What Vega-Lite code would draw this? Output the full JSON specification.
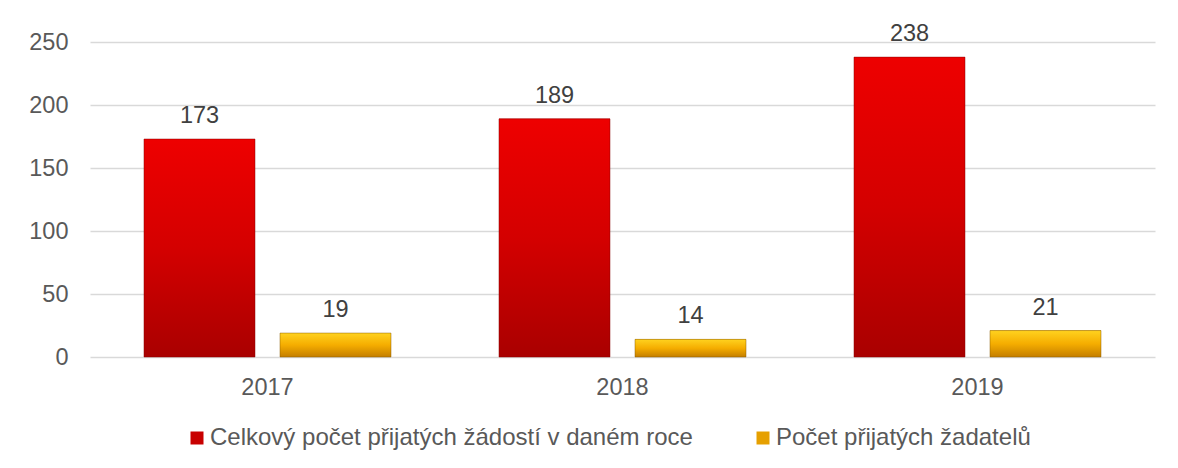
{
  "$schema": "https://vega.github.io/schema/vega-lite/v6.json",
  "width": 1065,
  "height": 315,
  "autosize": "none",
  "padding": {"left": 90, "top": 42, "right": 23, "bottom": 111},
  "background": "white",
  "config": {
    "font": "Liberation Sans",
    "view": {"stroke": null}
  },
  "data": {
    "values": [
      {"rok": "2017", "serie": "Celkový počet přijatých žádostí v daném roce", "hodnota": 173},
      {"rok": "2017", "serie": "Počet přijatých žadatelů", "hodnota": 19},
      {"rok": "2018", "serie": "Celkový počet přijatých žádostí v daném roce", "hodnota": 189},
      {"rok": "2018", "serie": "Počet přijatých žadatelů", "hodnota": 14},
      {"rok": "2019", "serie": "Celkový počet přijatých žádostí v daném roce", "hodnota": 238},
      {"rok": "2019", "serie": "Počet přijatých žadatelů", "hodnota": 21}
    ]
  },
  "encoding": {
    "x": {
      "field": "rok", "type": "nominal",
      "scale": {"paddingInner": 0, "paddingOuter": 0},
      "axis": {"title": null, "labelAngle": 0, "labelFontSize": 23.5, "labelColor": "#595959", "domain": false, "ticks": false, "labelPadding": 18, "grid": false}
    },
    "xOffset": {
      "field": "serie", "type": "nominal",
      "scale": {"domain": ["Celkový počet přijatých žádostí v daném roce", "Počet přijatých žadatelů"], "paddingInner": 0.184, "paddingOuter": 0.397}
    },
    "y": {
      "field": "hodnota", "type": "quantitative",
      "scale": {"domain": [0, 250], "nice": false},
      "axis": {"title": null, "values": [0, 50, 100, 150, 200, 250], "labelFontSize": 23.5, "labelColor": "#595959", "domain": false, "ticks": false, "labelPadding": 22, "gridColor": "#d9d9d9", "gridWidth": 1.5}
    }
  },
  "layer": [
    {
      "mark": {"type": "bar"},
      "encoding": {
        "color": {
          "field": "serie", "type": "nominal",
          "scale": {"domain": ["Celkový počet přijatých žádostí v daném roce", "Počet přijatých žadatelů"], "range": ["#c80000", "#e6a000"]},
          "legend": {"title": null, "orient": "none", "legendX": 95, "legendY": 384, "direction": "horizontal", "symbolType": "square", "symbolSize": 169, "symbolStrokeWidth": 0, "labelFontSize": 24, "labelColor": "#595959", "labelOffset": 1, "columnPadding": 58, "labelLimit": 700}
        }
      }
    },
    {
      "transform": [{"filter": "datum.serie === 'Celkový počet přijatých žádostí v daném roce'"}],
      "mark": {
        "type": "bar",
        "stroke": "#8a0000", "strokeWidth": 0.8, "strokeOpacity": 0.6,
        "fill": {"gradient": "linear", "x1": 0, "y1": 0, "x2": 0, "y2": 1,
          "stops": [{"offset": 0, "color": "#ee0000"}, {"offset": 0.5, "color": "#d40000"}, {"offset": 1, "color": "#a90000"}]}
      }
    },
    {
      "transform": [{"filter": "datum.serie === 'Počet přijatých žadatelů'"}],
      "mark": {
        "type": "bar",
        "stroke": "#8a5a00", "strokeWidth": 0.8, "strokeOpacity": 0.6,
        "fill": {"gradient": "linear", "x1": 0, "y1": 0, "x2": 0, "y2": 1,
          "stops": [{"offset": 0, "color": "#ffd21f"}, {"offset": 0.5, "color": "#f5ad00"}, {"offset": 1, "color": "#c47e00"}]}
      }
    },
    {
      "mark": {"type": "text", "baseline": "alphabetic", "dy": -16, "fontSize": 23.5, "color": "#404040"},
      "encoding": {"text": {"field": "hodnota", "type": "quantitative"}}
    }
  ]
}
